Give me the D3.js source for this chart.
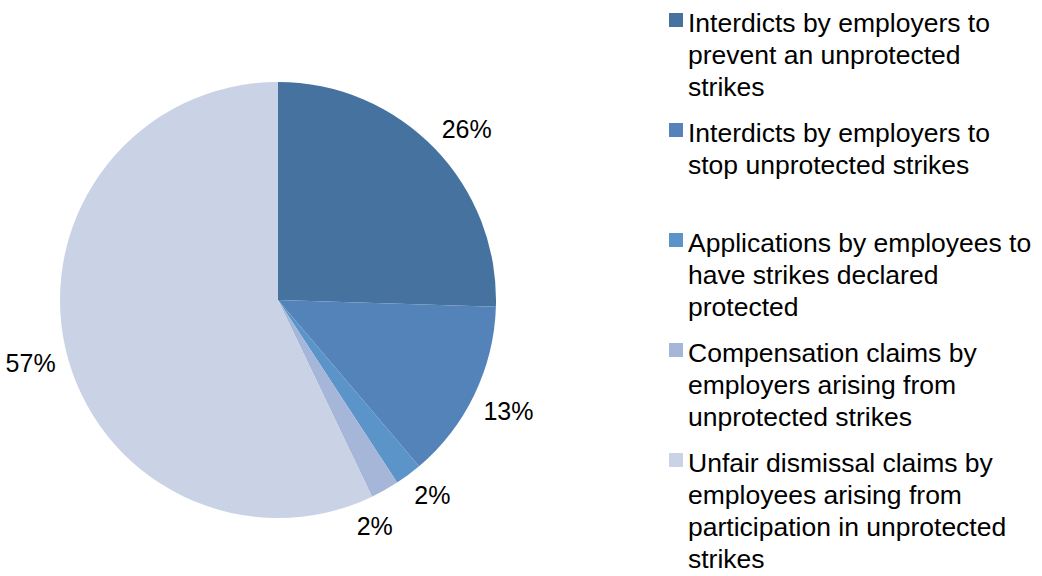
<!DOCTYPE html>
<html>
<head>
<meta charset="utf-8">
<script src="https://d3js.org/d3.v7.min.js"></script>
<style>
    body { margin: 0; background: #ffffff; }
    text { font-family: "Liberation Sans", Arial, sans-serif; }
</style>
</head>
<body>
<div id="chart"></div>
<script>

// categories (legend text, one entry per line)
var categories = [
    ["Interdicts by employers to", "prevent an unprotected", "strikes"],
    ["Interdicts by employers to", "stop unprotected strikes"],
    ["Applications by employees to", "have strikes declared", "protected"],
    ["Compensation claims by", "employers arising from", "unprotected strikes"],
    ["Unfair dismissal claims by", "employees arising from", "participation in unprotected", "strikes"]
];

// share of each category, in percent
var shares = [25.5, 13.3, 2.0, 2.1, 57.1];

var colors = ["#46729f", "#5383b8", "#5b94c9", "#a5b6d8", "#c9d3e5"];

//Width and height
var w = 1042;
var h = 576;

var cx = 278;
var cy = 300;
var radius = 218;
var labelRadius = 228;
var LABEL_PAD = 20;

var FONT_SIZE = 26.5;
var LINE_HEIGHT = 32;
var LABEL_SIZE = 25;

var svg = d3.select("#chart")
    .append("svg")
    .attr("width", w)
    .attr("height", h);

var dataset = shares.map(function (d, i) {
    return { "name": categories[i], "value": d, "color": colors[i] };
});

var pie = d3.pie()
    .sort(null)
    .value(function (d) { return d.value; });

var arc = d3.arc()
    .innerRadius(0)
    .outerRadius(radius);

var arcs = pie(dataset);

var pieGroup = svg.append("g")
    .attr("transform", "translate(" + cx + "," + cy + ")");

pieGroup.selectAll("path")
    .data(arcs)
    .enter()
    .append("path")
    .attr("d", arc)
    .style("fill", function (d) { return d.data.color; });

//labels sit outside the pie: the box corner nearest the centre touches the label circle
var fmt = d3.format(".0f");
var boxes = [];

function labelBox(a, bw, bh) {
    var px = labelRadius * Math.sin(a);
    var py = -labelRadius * Math.cos(a);
    var x = Math.sin(a) >= 0 ? px : px - bw;
    var y = Math.cos(a) >= 0 ? py - bh : py;
    return { x: x, y: y, w: bw, h: bh };
}

function overlaps(b, o) {
    return b.x < o.x + o.w + LABEL_PAD && o.x < b.x + b.w + LABEL_PAD &&
        b.y < o.y + o.h + LABEL_PAD && o.y < b.y + b.h + LABEL_PAD;
}

arcs.forEach(function (d) {
    var label = pieGroup.append("text")
        .attr("font-size", LABEL_SIZE)
        .attr("dy", "0.35em")
        .style("text-anchor", "middle")
        .style("fill", "#000000")
        .text(fmt(d.data.value) + "%");

    var bw = label.node().getComputedTextLength();
    var bh = LABEL_SIZE;
    var a = (d.startAngle + d.endAngle) / 2;
    var box = labelBox(a, bw, bh);

    //push clockwise while it crowds an earlier label
    while (boxes.some(function (o) { return overlaps(box, o); })) {
        a += 0.01;
        box = labelBox(a, bw, bh);
    }
    boxes.push(box);

    label.attr("x", box.x + bw / 2)
        .attr("y", box.y + bh / 2);
});

//legend, each item takes a slot of three lines
var legend = svg.append("g")
    .attr("transform", "translate(669,32)");

var items = legend.selectAll("g")
    .data(dataset)
    .enter()
    .append("g")
    .attr("transform", function (d, i) { return "translate(0," + (i * 110) + ")"; });

items.append("rect")
    .attr("x", 0)
    .attr("y", -19)
    .attr("width", 14)
    .attr("height", 14)
    .style("fill", function (d) { return d.color; });

items.append("text")
    .attr("font-size", FONT_SIZE)
    .style("fill", "#000000")
    .selectAll("tspan")
    .data(function (d) { return d.name; })
    .enter()
    .append("tspan")
    .attr("x", 19)
    .attr("y", function (d, i) { return i * LINE_HEIGHT; })
    .text(function (d) { return d; });

</script>
</body>
</html>
